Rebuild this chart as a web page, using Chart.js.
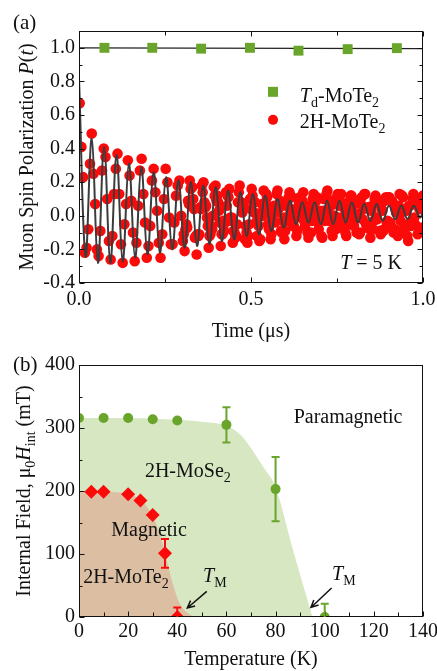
<!DOCTYPE html>
<html lang="en">
<head>
<meta charset="UTF-8">
<title>Muon spin polarization and internal field of 2H-MoTe2 / 2H-MoSe2</title>
<script src="https://cdn.jsdelivr.net/npm/chart.js"></script>
<style>
    body {
        margin: 0;
        background: #fff;
    }

    .panel {
        position: absolute;
        left: 0;
    }

    #panelA { top: 0; }
    #panelB { top: 340px; }
</style>
</head>
<body>
<div class="panel" id="panelA"><canvas id="chartA" width="437" height="345"></canvas></div>
<div class="panel" id="panelB"><canvas id="chartB" width="437" height="331"></canvas></div>

<script>
// ---------- (a) zero-field muSR at T = 5 K ----------
const tdTime = [0.074, 0.213, 0.355, 0.497, 0.638, 0.781, 0.924];
const tdPol = [1.0, 1.0, 0.995, 1.0, 0.983, 0.992, 0.998];
const tdFitTime = [0, 1];
const tdFitPol = [1.0, 0.995];

const hTime = [
    0.002, 0.007, 0.012, 0.017, 0.022, 0.027, 0.032, 0.037, 0.042, 0.047,
    0.052, 0.057, 0.062, 0.067, 0.072, 0.077, 0.082, 0.087, 0.092, 0.097,
    0.102, 0.107, 0.112, 0.117, 0.122, 0.127, 0.132, 0.137, 0.142, 0.147,
    0.152, 0.157, 0.162, 0.167, 0.172, 0.177, 0.182, 0.187, 0.192, 0.197,
    0.202, 0.207, 0.212, 0.217, 0.222, 0.227, 0.232, 0.237, 0.242, 0.247,
    0.252, 0.257, 0.262, 0.267, 0.272, 0.277, 0.282, 0.287, 0.292, 0.297,
    0.302, 0.307, 0.312, 0.317, 0.322, 0.327, 0.332, 0.337, 0.342, 0.347,
    0.352, 0.357, 0.362, 0.367, 0.372, 0.377, 0.382, 0.387, 0.392, 0.397,
    0.402, 0.407, 0.412, 0.417, 0.422, 0.427, 0.432, 0.437, 0.442, 0.447,
    0.452, 0.457, 0.462, 0.467, 0.472, 0.477, 0.482, 0.487, 0.492, 0.497,
    0.502, 0.507, 0.512, 0.517, 0.522, 0.527, 0.532, 0.537, 0.542, 0.547,
    0.552, 0.557, 0.562, 0.567, 0.572, 0.577, 0.582, 0.587, 0.592, 0.597,
    0.602, 0.607, 0.612, 0.617, 0.622, 0.627, 0.632, 0.637, 0.642, 0.647,
    0.652, 0.657, 0.662, 0.667, 0.672, 0.677, 0.682, 0.687, 0.692, 0.697,
    0.702, 0.707, 0.712, 0.717, 0.722, 0.727, 0.732, 0.737, 0.742, 0.747,
    0.752, 0.757, 0.762, 0.767, 0.772, 0.777, 0.782, 0.787, 0.792, 0.797,
    0.802, 0.807, 0.812, 0.817, 0.822, 0.827, 0.832, 0.837, 0.842, 0.847,
    0.852, 0.857, 0.862, 0.867, 0.872, 0.877, 0.882, 0.887, 0.892, 0.897,
    0.902, 0.907, 0.912, 0.917, 0.922, 0.927, 0.932, 0.937, 0.942, 0.947,
    0.952, 0.957, 0.962, 0.967, 0.972, 0.977, 0.982, 0.987, 0.992, 0.997
];
const hPol = [
    0.67, 0.41, 0.23, -0.22, -0.19, -0.08, 0.31, 0.49, 0.25, 0.07,
    -0.20, -0.24, -0.09, 0.27, 0.40, 0.35, 0.10, -0.15, -0.26, -0.12,
    0.13, 0.28, 0.37, 0.13, -0.17, -0.28, -0.05, 0.07, 0.33, 0.24,
    0.09, -0.10, -0.27, -0.16, 0.06, 0.27, 0.34, 0.13, -0.04, -0.25,
    -0.18, -0.06, 0.21, 0.28, 0.14, 0.03, -0.16, -0.25, -0.11, 0.10,
    0.28, 0.20, -0.01, -0.17, -0.17, -0.04, 0.12, 0.18, 0.21, 0.00,
    -0.15, -0.21, -0.05, 0.09, 0.21, 0.17, 0.10, -0.13, -0.23, -0.12,
    0.05, 0.18, 0.20, 0.05, -0.01, -0.19, -0.11, -0.08, 0.17, 0.18,
    0.12, 0.03, -0.18, -0.11, -0.09, 0.14, 0.12, 0.16, -0.03, -0.16,
    -0.10, -0.12, 0.08, 0.18, 0.08, 0.07, -0.14, -0.10, -0.12, 0.10,
    0.16, 0.08, 0.08, -0.12, -0.06, -0.14, 0.07, 0.15, 0.08, 0.11,
    -0.08, -0.14, -0.02, 0.06, 0.02, 0.15, 0.05, -0.09, -0.03, -0.14,
    0.06, -0.02, 0.14, 0.04, -0.06, 0.03, -0.12, 0.03, 0.11, 0.03,
    0.14, -0.06, 0.03, -0.13, 0.05, -0.03, 0.13, 0.04, 0.11, -0.08,
    0.00, -0.13, 0.10, 0.03, 0.15, -0.03, 0.06, -0.12, 0.00, -0.08,
    0.13, 0.06, 0.13, -0.06, 0.00, -0.12, 0.08, -0.01, 0.12, -0.03,
    0.07, -0.10, 0.01, -0.10, 0.11, 0.04, 0.13, -0.07, 0.05, -0.13,
    0.06, -0.03, 0.12, -0.02, 0.09, -0.11, 0.03, -0.08, 0.11, -0.03,
    0.11, -0.06, 0.08, -0.08, 0.02, -0.12, 0.13, 0.02, 0.11, -0.08,
    0.03, -0.15, 0.06, -0.03, 0.13, -0.05, 0.08, -0.10, 0.07, -0.07
];

// the dense band after 0.3 us (points between the ones above)
const hTime2 = [
    0.3045, 0.3095, 0.3145, 0.3195, 0.3245, 0.3295, 0.3345, 0.3395, 0.3445, 0.3495,
    0.3545, 0.3595, 0.3645, 0.3695, 0.3745, 0.3795, 0.3845, 0.3895, 0.3945, 0.3995,
    0.4045, 0.4095, 0.4145, 0.4195, 0.4245, 0.4295, 0.4345, 0.4395, 0.4445, 0.4495,
    0.4545, 0.4595, 0.4645, 0.4695, 0.4745, 0.4795, 0.4845, 0.4895, 0.4945, 0.4995,
    0.5045, 0.5095, 0.5145, 0.5195, 0.5245, 0.5295, 0.5345, 0.5395, 0.5445, 0.5495,
    0.5545, 0.5595, 0.5645, 0.5695, 0.5745, 0.5795, 0.5845, 0.5895, 0.5945, 0.5995,
    0.6045, 0.6095, 0.6145, 0.6195, 0.6245, 0.6295, 0.6345, 0.6395, 0.6445, 0.6495,
    0.6545, 0.6595, 0.6645, 0.6695, 0.6745, 0.6795, 0.6845, 0.6895, 0.6945, 0.6995,
    0.7045, 0.7095, 0.7145, 0.7195, 0.7245, 0.7295, 0.7345, 0.7395, 0.7445, 0.7495,
    0.7545, 0.7595, 0.7645, 0.7695, 0.7745, 0.7795, 0.7845, 0.7895, 0.7945, 0.7995,
    0.8045, 0.8095, 0.8145, 0.8195, 0.8245, 0.8295, 0.8345, 0.8395, 0.8445, 0.8495,
    0.8545, 0.8595, 0.8645, 0.8695, 0.8745, 0.8795, 0.8845, 0.8895, 0.8945, 0.8995,
    0.9045, 0.9095, 0.9145, 0.9195, 0.9245, 0.9295, 0.9345, 0.9395, 0.9445, 0.9495,
    0.9545, 0.9595, 0.9645, 0.9695, 0.9745, 0.9795, 0.9845, 0.9895, 0.9945, 0.9995
];
const hPol2 = [
    -0.11, -0.08, -0.07, 0.07, 0.16, 0.17, 0.04, -0.12, -0.11, -0.11,
    0.04, 0.14, 0.08, 0.06, -0.06, -0.12, -0.06, 0.00, 0.12, 0.09,
    0.08, -0.04, -0.11, -0.03, -0.04, 0.06, 0.11, -0.01, -0.01, -0.09,
    -0.13, -0.05, 0.14, 0.08, 0.02, 0.04, -0.06, -0.16, -0.05, 0.04,
    0.12, 0.02, -0.04, -0.01, -0.15, 0.02, 0.00, 0.04, 0.13, -0.05,
    0.03, -0.11, 0.01, -0.04, 0.13, 0.04, 0.09, -0.10, -0.01, -0.09,
    -0.03, 0.11, 0.02, 0.11, -0.06, -0.01, -0.09, 0.07, -0.01, 0.09,
    -0.03, 0.06, -0.10, 0.01, -0.10, 0.10, 0.02, 0.09, -0.04, 0.03,
    -0.12, 0.03, -0.03, 0.13, 0.02, 0.09, -0.09, 0.00, -0.05, 0.11,
    -0.01, 0.08, -0.07, 0.05, -0.10, 0.03, -0.05, 0.12, 0.02, -0.06,
    0.09, 0.00, -0.11, 0.07, -0.02, 0.13, -0.05, 0.05, -0.08, 0.03,
    -0.08, 0.10, -0.01, 0.08, -0.09, 0.04, -0.09, 0.09, -0.04, 0.11,
    -0.04, 0.09, -0.10, 0.04, -0.09, 0.06, -0.03, 0.12, -0.05, 0.04,
    -0.12, 0.06, -0.06, 0.10, -0.01, 0.10, -0.11, 0.04, -0.08, 0.12
];

// fitted curve, read at its turning points
const fitTime = [
    0, 0.019, 0.037, 0.055, 0.073, 0.091, 0.109, 0.127, 0.145, 0.163,
    0.181, 0.199, 0.217, 0.235, 0.253, 0.271, 0.289, 0.307, 0.325, 0.343,
    0.361, 0.379, 0.397, 0.415, 0.433, 0.451, 0.469, 0.487, 0.505, 0.523,
    0.541, 0.559, 0.577, 0.595, 0.613, 0.631, 0.649, 0.667, 0.685, 0.703,
    0.721, 0.739, 0.757, 0.775, 0.793, 0.811, 0.829, 0.847, 0.865, 0.883,
    0.901, 0.919, 0.937, 0.955, 0.973, 0.991, 1.0
];
const fitPol = [
    0.82, -0.24, 0.46, -0.28, 0.41, -0.28, 0.36, -0.27, 0.31, -0.25,
    0.29, -0.23, 0.26, -0.22, 0.23, -0.20, 0.21, -0.19, 0.20, -0.18,
    0.18, -0.17, 0.17, -0.15, 0.15, -0.14, 0.14, -0.12, 0.13, -0.11,
    0.12, -0.09, 0.10, -0.07, 0.09, -0.05, 0.08, -0.04, 0.08, -0.05,
    0.09, -0.05, 0.09, -0.04, 0.08, -0.04, 0.07, -0.03, 0.07, -0.03,
    0.06, -0.02, 0.06, -0.02, 0.06, -0.01, 0.02
];

const aXTicks = [0, 0.5, 1.0];
const aXMinor = [0.25, 0.75];
const aYTicks = [-0.4, -0.2, 0, 0.2, 0.4, 0.6, 0.8, 1.0];
const aYMinor = [-0.3, -0.1, 0.1, 0.3, 0.5, 0.7, 0.9];

// ---------- (b) internal field vs temperature ----------
const seTemp = [0, 10, 20, 30, 40, 60, 80, 100];
const seField = [316, 316, 316, 314, 312, 305, 203, 0];
const seErr = [0, 0, 0, 0, 0, 28, 51, 21];
const teTemp = [5, 10, 20, 25, 30, 35, 40];
const teField = [199, 199, 195, 185, 162, 101, 0];
const teErr = [0, 0, 0, 0, 0, 23, 15];

// shaded phase boundaries
const seRegionTemp = [0, 20, 40, 50, 58, 62, 66, 70, 75, 80, 87, 95];
const seRegionField = [316, 316, 313, 310, 306, 300, 288, 268, 238, 206, 108, 0];
const teRegionTemp = [0, 15, 20, 25, 28, 31, 33, 35, 37, 39, 41, 44, 47];
const teRegionField = [200, 198, 195, 186, 173, 152, 130, 102, 70, 42, 21, 7, 0];

const bXTicks = [0, 20, 40, 60, 80, 100, 120, 140];
const bXMinor = [10, 30, 50, 70, 90, 110, 130];
const bYTicks = [0, 100, 200, 300, 400];
const bYMinor = [50, 150, 250, 350];

const SERIF = '"Liberation Serif", "Times New Roman", serif';
const GREEN = '#69a52a';
const RED = '#fb0a0a';
const SE_FILL = '#d6e7c2';
const TE_FILL = '#dcbfa3';

const pts = (xs, ys) => xs.map((v, i) => ({ x: v, y: ys[i] }));

function partFont(style, size) {
    const sub = style.includes('sub');
    const it = style.startsWith('i');
    return (it ? 'italic ' : '') + Math.round(sub ? size * 0.68 : size) + 'px ' + SERIF;
}

// text made of plain / italic / subscript pieces
function drawParts(ctx, parts, x, y, align, size) {
    let w = 0;
    parts.forEach(([t, s]) => { ctx.font = partFont(s, size); w += ctx.measureText(t).width; });
    let cx = align === 'center' ? x - w / 2 : align === 'right' ? x - w : x;
    ctx.textAlign = 'left';
    ctx.textBaseline = 'alphabetic';
    parts.forEach(([t, s]) => {
        ctx.font = partFont(s, size);
        ctx.fillText(t, cx, y + (s.includes('sub') ? size * 0.27 : 0));
        cx += ctx.measureText(t).width;
    });
}

const frameTicks = {
    id: 'frameTicks',
    afterDatasetsDraw(chart, args, o) {
        const { ctx, chartArea: a, scales: { x, y } } = chart;
        ctx.save();
        ctx.strokeStyle = '#111';
        ctx.lineWidth = 1;
        const seg = (x1, y1, x2, y2) => { ctx.beginPath(); ctx.moveTo(x1, y1); ctx.lineTo(x2, y2); ctx.stroke(); };
        const L = Math.round(a.left) + 0.5, R = Math.round(a.right) - 0.5;
        const T = Math.round(a.top) + 0.5, B = Math.round(a.bottom) - 0.5;
        ctx.strokeRect(L, T, R - L, B - T);
        const xt = (vals, len) => vals.forEach(v => {
            const p = Math.round(x.getPixelForValue(v)) + 0.5;
            seg(p, B, p, B - len);
            if (o.mirror) seg(p, T, p, T + len);
        });
        const yt = (vals, len) => vals.forEach(v => {
            const p = Math.round(y.getPixelForValue(v)) + 0.5;
            seg(L, p, L + len, p);
            if (o.mirror) seg(R, p, R - len, p);
        });
        xt(o.xMajor, 5); xt(o.xMinor, 4);
        yt(o.yMajor, 5); yt(o.yMinor, 3);
        ctx.restore();
    }
};

const notes = {
    id: 'notes',
    afterDraw(chart, args, o) {
        const { ctx, chartArea: a, scales: { x, y } } = chart;
        ctx.save();
        ctx.fillStyle = '#111';
        ctx.strokeStyle = '#111';

        // error bars
        (o.errors || []).forEach(e => {
            ctx.save();
            ctx.beginPath();
            ctx.rect(a.left, a.top, a.right - a.left, a.bottom - a.top);
            ctx.clip();
            ctx.strokeStyle = e.color;
            ctx.lineWidth = 2;
            e.xs.forEach((xv, i) => {
                if (!e.errs[i]) return;
                const px = x.getPixelForValue(xv);
                const top = y.getPixelForValue(e.ys[i] + e.errs[i]);
                const bot = y.getPixelForValue(e.ys[i] - e.errs[i]);
                ctx.beginPath();
                ctx.moveTo(px, top); ctx.lineTo(px, bot);
                ctx.moveTo(px - 4, top); ctx.lineTo(px + 4, top);
                ctx.moveTo(px - 4, bot); ctx.lineTo(px + 4, bot);
                ctx.stroke();
            });
            ctx.restore();
        });

        // legend symbols
        (o.symbols || []).forEach(s => {
            const px = x.getPixelForValue(s.x), py = y.getPixelForValue(s.y);
            ctx.fillStyle = s.color;
            ctx.beginPath();
            if (s.shape === 'rect') ctx.rect(px - 5, py - 5, 10, 10);
            else ctx.arc(px, py, 5, 0, Math.PI * 2);
            ctx.fill();
        });

        // labels in data coordinates
        ctx.fillStyle = '#111';
        (o.labels || []).forEach(l => {
            drawParts(ctx, l.parts, x.getPixelForValue(l.x), y.getPixelForValue(l.y), l.align || 'left', 20);
        });

        // arrows
        ctx.lineWidth = 1.5;
        (o.arrows || []).forEach(r => {
            const x1 = x.getPixelForValue(r.from[0]), y1 = y.getPixelForValue(r.from[1]);
            const x2 = x.getPixelForValue(r.to[0]), y2 = y.getPixelForValue(r.to[1]);
            const ang = Math.atan2(y2 - y1, x2 - x1);
            ctx.beginPath();
            ctx.moveTo(x1, y1); ctx.lineTo(x2, y2);
            ctx.moveTo(x2 - 8 * Math.cos(ang - 0.45), y2 - 8 * Math.sin(ang - 0.45));
            ctx.lineTo(x2, y2);
            ctx.lineTo(x2 - 8 * Math.cos(ang + 0.45), y2 - 8 * Math.sin(ang + 0.45));
            ctx.stroke();
        });

        // axis titles and panel tag
        const midX = (a.left + a.right) / 2, midY = (a.top + a.bottom) / 2;
        drawParts(ctx, o.xTitle, midX, a.bottom + o.xTitleGap, 'center', 20);
        ctx.save();
        ctx.translate(o.yTitleX, midY);
        ctx.rotate(-Math.PI / 2);
        drawParts(ctx, o.yTitle, 0, 0, 'center', 20);
        ctx.restore();
        drawParts(ctx, [[o.tag, '']], 13, o.tagY, 'left', 21);
        ctx.restore();
    }
};

function axis(min, max, ticks, fmt, fitSize, pad, horizontal) {
    return {
        type: 'linear',
        min: min,
        max: max,
        grid: { display: false, drawTicks: false },
        border: { display: false },
        afterBuildTicks: s => { s.ticks = ticks.map(v => ({ value: v })); },
        afterFit: s => {
            if (horizontal) s.height = fitSize; else s.width = fitSize;
            s.paddingLeft = s.paddingRight = s.paddingTop = s.paddingBottom = 0;
        },
        ticks: {
            padding: pad,
            color: '#111',
            autoSkip: false,
            maxRotation: 0,
            font: { family: SERIF, size: 20 },
            callback: fmt
        }
    };
}

function renderCharts() {
    new Chart(document.getElementById('chartA'), {
        type: 'scatter',
        data: {
            datasets: [
                {
                    label: 'Td-MoTe2', data: pts(tdTime, tdPol), order: 0, clip: 0,
                    pointStyle: 'rect', pointRadius: 7, backgroundColor: GREEN, borderWidth: 0
                },
                {
                    label: 'Td fit', data: pts(tdFitTime, tdFitPol), order: 3, clip: 0,
                    showLine: true, pointRadius: 0, borderColor: '#222', borderWidth: 1.2
                },
                {
                    label: '2H fit', data: pts(fitTime, fitPol), order: 1, clip: 0,
                    showLine: true, pointRadius: 0, borderColor: '#3b3b3b', borderWidth: 2, tension: 0.4
                },
                {
                    label: '2H-MoTe2', data: pts(hTime, hPol).concat(pts(hTime2, hPol2)), order: 2, clip: 0,
                    pointStyle: 'circle', pointRadius: 5.3, backgroundColor: RED, borderWidth: 0
                }
            ]
        },
        options: {
            responsive: false,
            animation: false,
            events: [],
            layout: { padding: { left: 0, right: 14, top: 31, bottom: 0 } },
            scales: {
                x: axis(0, 1, aXTicks, v => v.toFixed(1), 62, 5, true),
                y: axis(-0.4, 1.1, aYTicks, v => v.toFixed(1), 79, 4, false)
            },
            plugins: {
                legend: { display: false },
                tooltip: { enabled: false },
                frameTicks: { xMajor: aXTicks, xMinor: aXMinor, yMajor: aYTicks, yMinor: aYMinor, mirror: true },
                notes: {
                    symbols: [
                        { x: 0.564, y: 0.738, shape: 'rect', color: GREEN },
                        { x: 0.564, y: 0.571, shape: 'circle', color: RED }
                    ],
                    labels: [
                        { x: 0.642, y: 0.68, parts: [['T', 'i'], ['d', 'sub'], ['-MoTe', ''], ['2', 'sub']] },
                        { x: 0.642, y: 0.524, parts: [['2H-MoTe', ''], ['2', 'sub']] },
                        { x: 0.939, y: -0.315, align: 'right', parts: [['T', 'i'], [' = 5 K', '']] }
                    ],
                    xTitle: [['Time (μs)', '']],
                    xTitleGap: 54,
                    yTitle: [['Muon Spin Polarization ', ''], ['P', 'i'], ['(', ''], ['t', 'i'], [')', '']],
                    yTitleX: 33,
                    tag: '(a)',
                    tagY: 29
                }
            }
        },
        plugins: [frameTicks, notes]
    });

    new Chart(document.getElementById('chartB'), {
        type: 'scatter',
        data: {
            datasets: [
                {
                    label: '2H-MoSe2', data: pts(seTemp, seField), order: 0, clip: 0,
                    pointStyle: 'circle', pointRadius: 5, backgroundColor: GREEN, borderWidth: 0
                },
                {
                    label: '2H-MoTe2', data: pts(teTemp, teField), order: 0, clip: 0,
                    pointStyle: 'rectRot', pointRadius: 7, backgroundColor: RED, borderWidth: 0
                },
                {
                    label: 'Magnetic MoTe2', data: pts(teRegionTemp, teRegionField), order: 4, clip: 0,
                    showLine: true, fill: 'origin', backgroundColor: TE_FILL, borderColor: 'rgba(0,0,0,0)',
                    borderWidth: 0, pointRadius: 0, cubicInterpolationMode: 'monotone'
                },
                {
                    label: 'Magnetic MoSe2', data: pts(seRegionTemp, seRegionField), order: 5, clip: 0,
                    showLine: true, fill: 'origin', backgroundColor: SE_FILL, borderColor: 'rgba(0,0,0,0)',
                    borderWidth: 0, pointRadius: 0, cubicInterpolationMode: 'monotone'
                }
            ]
        },
        options: {
            responsive: false,
            animation: false,
            events: [],
            layout: { padding: { left: 0, right: 14, top: 25, bottom: 0 } },
            scales: {
                x: axis(0, 140, bXTicks, v => String(v), 54, 3, true),
                y: axis(0, 400, bYTicks, v => String(v), 79, 4, false)
            },
            plugins: {
                legend: { display: false },
                tooltip: { enabled: false },
                frameTicks: { xMajor: bXTicks, xMinor: bXMinor, yMajor: bYTicks, yMinor: bYMinor, mirror: false },
                notes: {
                    errors: [
                        { xs: seTemp, ys: seField, errs: seErr, color: GREEN },
                        { xs: teTemp, ys: teField, errs: teErr, color: RED }
                    ],
                    labels: [
                        { x: 109.5, y: 308, align: 'center', parts: [['Paramagnetic', '']] },
                        { x: 44.3, y: 223, align: 'center', parts: [['2H-MoSe', ''], ['2', 'sub']] },
                        { x: 28.5, y: 129, align: 'center', parts: [['Magnetic', '']] },
                        { x: 19.1, y: 54.5, align: 'center', parts: [['2H-MoTe', ''], ['2', 'sub']] },
                        { x: 50.5, y: 56, parts: [['T', 'i'], ['M', 'sub']] },
                        { x: 103, y: 59, parts: [['T', 'i'], ['M', 'sub']] }
                    ],
                    arrows: [
                        { from: [52, 40.6], to: [44.1, 14.3] },
                        { from: [102.8, 46], to: [94.4, 15.2] }
                    ],
                    xTitle: [['Temperature (K)', '']],
                    xTitleGap: 48,
                    yTitle: [['Internal Field, μ', ''], ['0', 'sub'], ['H', 'i'], ['int', 'sub'], [' (mT)', '']],
                    yTitleX: 30,
                    tag: '(b)',
                    tagY: 31
                }
            }
        },
        plugins: [frameTicks, notes]
    });
}

document.addEventListener('DOMContentLoaded', renderCharts);
</script>
</body>
</html>
